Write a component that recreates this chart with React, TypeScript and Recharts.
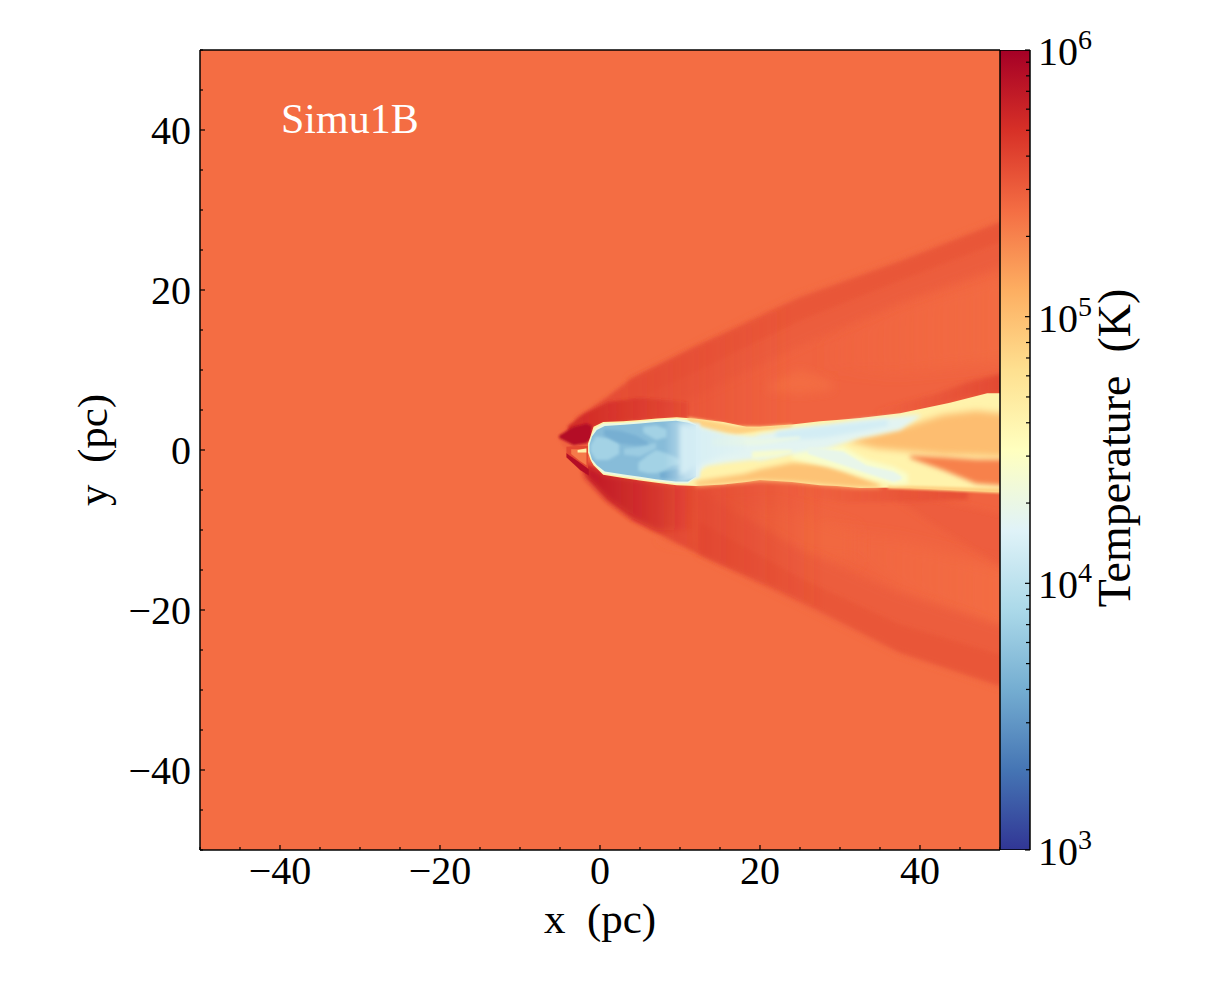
import { Area, Bar, ComposedChart, ReferenceDot, XAxis, YAxis } from "recharts";

type Band = Array<[number, number, number]>; // x (pc), lower y, upper y

// tick values
const xTicks = [-50, -45, -40, -35, -30, -25, -20, -15, -10, -5, 0, 5, 10, 15, 20, 25, 30, 35, 40, 45, 50];
const majorTicks = [-40, -20, 0, 20, 40];
const tempTicks = [
  1000, 2000, 3000, 4000, 5000, 6000, 7000, 8000, 9000, 10000, 20000, 30000, 40000, 50000, 60000, 70000, 80000,
  90000, 100000, 200000, 300000, 400000, 500000, 600000, 700000, 800000, 900000, 1000000,
];
const tempDecades = [1000, 10000, 100000, 1000000];

// RdYlBu_r, low to high
const palette = ["#313695", "#4575b4", "#74add1", "#abd9e9", "#e0f3f8", "#ffffbf", "#fee090", "#fdae61", "#f46d43", "#d73027", "#a50026"];

const ambient: Band = [[-50, -50, 50], [50, -50, 50]];

// bow shock sheath
const sheath: Band = [[-5.4, 1.6, 1.7], [-4, -0.4, 3], [-2, -2.9, 4.6], [0.9, -6.25, 6.6], [3.75, -8.6, 8.75], [12.5, -13.1, 13.1], [25, -18.75, 19], [37.5, -25.25, 23.5], [50, -29.4, 28.4]];
const shockUpWide: Band = [[3.75, 4, 8.75], [12.5, 7, 13.1], [25, 13, 19], [37.5, 18.5, 23.5], [50, 23, 28.4]];
const shockUp: Band = [[3.75, 6, 8.75], [12.5, 10, 13], [25, 16.2, 18.9], [37.5, 21.2, 23.4], [50, 26, 28.3]];
const shockDownWide: Band = [[12.5, -12.9, -5], [25, -19, -12.5], [37.5, -25.2, -18], [50, -29.4, -22]];
const shockDown: Band = [[12.5, -13, -9], [25, -18.7, -16], [37.5, -25.2, -21.8], [50, -29.3, -25.6]];
const lightUp: Band = [[27, 10, 13], [37, 9.5, 18], [50, 11, 22]];
const lightDown: Band = [[27.5, -10.9, -9.6], [37.5, -17.5, -11.25], [50, -22.5, -14.6]];
const lightBlob: Band = [[21, 7.4, 8.2], [25, 7, 10], [29, 7.5, 8.6]];
const lightLow: Band = [[8, -11, -8], [22, -13, -7], [32, -14, -10]];
const stripeDown: Band = [[37, -6.2, -5], [42, -9.5, -6.2], [50, -14.5, -8]];
const nearJetDown: Band = [[24, -5.6, -4], [31, -6.6, -4.6], [40, -6.4, -4.6], [46, -6.2, -5]];
const nearJetUp: Band = [[34, 3.9, 5], [42, 5.2, 7], [46, 6.5, 8.5], [50, 7, 9.5]];
const headUp: Band = [[-3, 2.5, 4], [-2, 2.7, 4.6], [0.9, 3.4, 6.6], [3.75, 3.6, 8.75], [8, 3.9, 10.9], [12, 3.9, 12.9], [18, 3, 15.6], [24, 3, 18.5]];
const headDown: Band = [[-2, -2.9, -1.5], [0.9, -6.25, -3], [4.1, -8.75, -3.5], [8, -10.8, -4.2], [12.5, -13.1, -4.5], [16, -14.7, -4.2], [22, -17.3, -3.9], [28, -20.3, -4.3]];
const headDownDark: Band = [[-1.8, -3.3, -1.8], [0.9, -6.2, -3.1], [4, -8.5, -3.5], [7, -10, -4.1], [12, -10, -4.5]];
const noseUp: Band = [[-4, 1.8, 3], [-2, 2.5, 4.5], [1, 3.3, 6], [5, 3.7, 6.5], [11, 4, 6]];
const noseCore: Band = [[-5.1, 1.5, 1.8], [-3.3, 0.6, 2.9], [-1.67, 0.85, 3.3], [-1, 1.5, 3]];
const noseLobe: Band = [[-4.2, -0.5, 0.4], [-3, -1.9, 0.5], [-2, -2.6, 0.5], [-1.5, -2.6, 0.5]];
const noseLobeIn: Band = [[-3.6, -0.5, 0.1], [-2.6, -1.3, 0.1], [-1.7, -1.9, 0.2]];
const noseLine: Band = [[-4.2, -0.9, -0.4], [-2.5, -2.5, -1.6], [-1.4, -3.2, -2.4]];
const noseSpot: Band = [[-2.8, -0.3, 0], [-1.7, -0.3, 0.2]];

// jet envelope and warm patches
const jetEnvelope: Band = [[-1.5, -0.3, 0.8], [-1.2, -1.2, 1.7], [-0.8, -1.9, 2.9], [0.4, -3.1, 3.5], [2.9, -3.5, 3.6], [5, -3.8, 3.75], [7.1, -4.1, 3.95], [9.6, -4.4, 4.1], [12, -4.5, 3.9], [15.4, -4.3, 3.5], [18.3, -4, 2.9], [20, -3.75, 2.9], [24, -4, 3.2], [27.5, -4.4, 3.6], [29.6, -4.5, 3.75], [32.5, -4.75, 4], [37.5, -4.7, 4.6], [43.75, -5, 5.9], [48.4, -5.2, 7.1], [50, -5.25, 7.1]];
const warmTop: Band = [[11, 3.3, 4.1], [14, 2.4, 3.6], [17, 1.9, 3], [20, 2.4, 2.95], [24, 2.8, 3.2]];
const warmLow: Band = [[12, -4.5, -3.9], [18, -4, -3], [20, -3.8, -2.4], [24, -4, -1.6], [28.5, -4.4, -1.8], [32, -4.7, -3.2], [35, -4.7, -4.3]];
const warmWedge: Band = [[31, 1.1, 1.2], [34.6, 0.2, 2], [38.75, -0.2, 3.1], [42.9, -0.6, 4.4], [47, -0.7, 4.9], [50, -0.8, 4.6]];
const redWedge: Band = [[38.75, -1, -0.7], [42.9, -2.5, -0.9], [47, -4.2, -1.2], [50, -4.4, -1.2]];
const edgeLow: Band = [[36, -4.8, -4.4], [43, -5.1, -4.6], [50, -5.4, -4.8]];

// cold core
const haloBranch: Band = [[24, -1, 0.8], [30.4, -2.6, 0.4], [33.3, -3.5, -1.2], [36.7, -4.4, -2.1], [38.5, -4.2, -3]];
const paleBranch: Band = [[26, -0.5, 0.4], [30.4, -1.9, -0.2], [33.3, -2.9, -1.9], [36.7, -4, -2.7], [37.7, -3.7, -3.3]];
const paleMain: Band = [[10, -3.5, 3.2], [11.5, -3.3, 3.1], [13.3, -2, 2.6], [15.8, -1.6, 1.9], [19.2, -1.2, 1.7], [20, -1.3, 2], [24.2, -0.4, 2.7], [28.3, 0.2, 3.1], [32.5, 1.5, 3.75], [37.5, 2.5, 4.2], [40, 4.2, 4.4]];
const paleCore: Band = [[22, 1.2, 2.3], [28, 1.5, 3], [33, 2.4, 3.5], [36, 3, 3.8]];
const paleLight: Band = [[19, -1.1, -0.2], [22, -0.8, 0], [24, -0.3, 0]];
const paleMid: Band = [[14, 0.5, 1.6], [20, 0.6, 1.4], [25, 1.3, 1.7]];
const headRim: Band = [[-1.4, -0.3, 0.8], [-1, -1.5, 1.9], [-0.6, -1.9, 2.7], [0.4, -2.9, 3.3], [2.9, -3.3, 3.4], [5, -3.6, 3.55], [7.1, -3.9, 3.75], [9.6, -4.2, 3.9], [11, -4.2, 3.7], [12, -3.3, 3.2]];
const headBlue: Band = [[-1.3, -0.2, 0.7], [-1, -1.2, 1.7], [-0.4, -1.9, 2.5], [0.6, -2.7, 3], [3, -3.05, 3.15], [5, -3.35, 3.3], [7, -3.65, 3.5], [9.5, -3.95, 3.65], [11, -3.95, 3.4], [12, -3.3, 3.1]];
const headFadeIn: Band = [[8, -4, 3.6], [10.5, -4, 3.6], [12.5, -3.4, 3.3]];
const headFade: Band = [[10, -3.4, 3.2], [12, -2, 2.9], [15, -0.8, 2.2], [18, -0.2, 1.4]];
const swirlLow: Band = [[4.8, -2.6, -1.6], [6, -2.9, -0.6], [7, -2.9, 0], [8, -2.6, -0.3], [9, -2, -0.7], [10, -1.8, -1.2]];
const swirlUp: Band = [[5.4, 2.2, 2.9], [7, 1.25, 3.1], [8.3, 1.6, 2.6]];
const swirlMid: Band = [[3, -0.6, 0.2], [5, -0.8, 0.4], [7, 0.2, 0.9]];
const noseLight: Band = [[-1.2, -0.2, 0.6], [-0.5, -1.25, 1.7], [1, -1.25, 1.5], [2.4, -0.5, 0.8]];
const headDark: Band = [[0.5, 1.8, 2.6], [2.5, 0.8, 2.4], [4.5, 0.6, 1.8], [6, 0.7, 1]];
const headDarkLow: Band = [[7.5, -3.5, -2.9], [9.5, -3.7, -2.4], [10.5, -3.4, -2.6]];

// band, position on the colour bar (0 to 1), blur in px, opacity at left and right end; drawing order
const layers: Array<[Band, number, number, number?, number?]> = [
  [sheath, 0.815, 1.5],
  [lightUp, 0.802, 7, 0, 1],
  [lightDown, 0.8, 7, 0.2, 1],
  [lightBlob, 0.802, 4],
  [lightLow, 0.81, 7],
  [shockUpWide, 0.826, 4, 1, 1],
  [shockDownWide, 0.826, 4, 1, 1],
  [shockUp, 0.838, 2, 1, 1],
  [shockDown, 0.838, 2, 1, 1],
  [stripeDown, 0.832, 3, 0.6, 0.6],
  [nearJetDown, 0.85, 2, 0, 1],
  [nearJetUp, 0.865, 2.5, 0, 1],
  [headUp, 0.86, 2, 1, 0],
  [headDown, 0.885, 2, 1, 0],
  [headDownDark, 0.945, 3, 1, 0],
  [noseUp, 0.91, 1.5, 1, 0.2],
  [noseCore, 0.97, 0.8],
  [noseLobe, 0.86, 0.6],
  [noseLobeIn, 0.78, 0.6],
  [noseLine, 0.97, 0.6],
  [noseSpot, 0.55, 0.5],
  [jetEnvelope, 0.54, 0.7],
  [warmTop, 0.63, 1.5],
  [warmLow, 0.66, 2.5],
  [warmWedge, 0.67, 3.5],
  [edgeLow, 0.63, 1],
  [redWedge, 0.77, 2.5],
  [haloBranch, 0.48, 2],
  [paleMain, 0.41, 2],
  [paleBranch, 0.425, 1.2],
  [paleCore, 0.375, 2],
  [paleLight, 0.47, 1.5],
  [paleMid, 0.43, 1.5],
  [headRim, 0.44, 0.5],
  [headBlue, 0.235, 0.6],
  [swirlLow, 0.285, 1.5],
  [swirlUp, 0.285, 1.5],
  [swirlMid, 0.27, 1.5],
  [noseLight, 0.285, 1.5],
  [headDark, 0.205, 1.5],
  [headDarkLow, 0.2, 1],
  [headFadeIn, 0.39, 1.5, 0, 1],
  [headFade, 0.38, 2.5, 1, 0.2],
];

const blurs = Array.from(new Set(layers.map((l) => l[2])));
const blurId = (b: number) => `soft${String(b).replace(".", "_")}`;
const FONT = "'Liberation Serif', 'DejaVu Serif', serif";

function levelColor(level: number) {
  const pos = level * (palette.length - 1);
  const i = Math.min(Math.floor(pos), palette.length - 2);
  const t = pos - i;
  const a = parseInt(palette[i].slice(1), 16);
  const b = parseInt(palette[i + 1].slice(1), 16);
  const mix = (s: number) => Math.round(((a >> s) & 255) * (1 - t) + ((b >> s) & 255) * t);
  return `rgb(${mix(16)},${mix(8)},${mix(0)})`;
}

// run the band a little past the right edge so the blur does not fade at the frame
const toRows = (band: Band) => {
  const last = band[band.length - 1];
  const rows = last[0] === 50 ? [...band, [53, last[1], last[2]] as [number, number, number]] : band;
  return rows.map(([x, lo, hi]) => ({ x, band: [lo, hi] }));
};

const tickLen = (v: number) => (majorTicks.includes(v) ? 5 : 3);
const axisText = (v: number) => String(v).replace("-", "\u2212");

const bottomTick = ({ x, y, payload }: any) => (
  <g>
    <line x1={x} x2={x} y1={y} y2={y - tickLen(payload.value)} stroke="#000" strokeWidth={1.2} />
    {majorTicks.includes(payload.value) && (
      <text x={x} y={y + 34} textAnchor="middle" fontFamily={FONT} fontSize={40} fill="#000">
        {axisText(payload.value)}
      </text>
    )}
  </g>
);
const topTick = ({ x, y, payload }: any) => (
  <line x1={x} x2={x} y1={y} y2={y + tickLen(payload.value)} stroke="#000" strokeWidth={1.2} />
);
const leftTick = ({ x, y, payload }: any) => (
  <g>
    <line x1={x} x2={x + tickLen(payload.value)} y1={y} y2={y} stroke="#000" strokeWidth={1.2} />
    {majorTicks.includes(payload.value) && (
      <text x={x - 9} y={y + 14} textAnchor="end" fontFamily={FONT} fontSize={40} fill="#000">
        {axisText(payload.value)}
      </text>
    )}
  </g>
);
const rightTick = ({ x, y, payload }: any) => (
  <line x1={x} x2={x - tickLen(payload.value)} y1={y} y2={y} stroke="#000" strokeWidth={1.2} />
);
const tempTick = ({ x, y, payload }: any) => {
  const isDecade = tempDecades.includes(payload.value);
  return (
    <g>
      <line x1={x} x2={x - (isDecade ? 5 : 4)} y1={y} y2={y} stroke="#000" strokeWidth={1.2} />
      {isDecade && (
        <text x={x + 8} y={y + 15} fontFamily={FONT} fontSize={40} fill="#000">
          10
          <tspan fontSize={28} dy={-16}>
            {Math.round(Math.log10(payload.value))}
          </tspan>
        </text>
      )}
    </g>
  );
};

export default function App() {
  return (
    <div style={{ position: "absolute", left: 0, top: 0, width: 1225, height: 1000, background: "#fff" }}>
      <div style={{ position: "absolute", left: 0, top: 0 }}>
        <ComposedChart width={1225} height={1000} margin={{ top: 40, right: 200, bottom: 90, left: 80 }}>
          <defs>
            {blurs.map((b) => (
              <filter key={b} id={blurId(b)} filterUnits="userSpaceOnUse" x={0} y={0} width={1225} height={1000}>
                <feGaussianBlur stdDeviation={b} />
              </filter>
            ))}
            {layers.map(([, level, , left, right], i) =>
              left === undefined ? null : (
                <linearGradient key={i} id={`fade${i}`} x1="0" y1="0" x2="1" y2="0">
                  <stop offset={0} stopColor={levelColor(level)} stopOpacity={left} />
                  <stop offset={1} stopColor={levelColor(level)} stopOpacity={right} />
                </linearGradient>
              ),
            )}
          </defs>
          <XAxis type="number" dataKey="x" domain={[-50, 50]} ticks={xTicks} interval={0} allowDataOverflow height={60} tickSize={0} tickMargin={0} tickLine={false} tick={bottomTick} axisLine={{ stroke: "#000", strokeWidth: 1.5 }} />
          <YAxis type="number" domain={[-50, 50]} ticks={xTicks} interval={0} allowDataOverflow width={120} tickSize={0} tickMargin={0} tickLine={false} tick={leftTick} axisLine={{ stroke: "#000", strokeWidth: 1.5 }} />
          <Area data={toRows(ambient)} dataKey="band" type="linear" stroke="none" fill={levelColor(0.8)} fillOpacity={1} dot={false} activeDot={false} isAnimationActive={false} />
          {layers.map(([band, level, blur, left], i) => (
            <Area
              key={i}
              data={toRows(band)}
              dataKey="band"
              type="linear"
              stroke="none"
              fill={left === undefined ? levelColor(level) : `url(#fade${i})`}
              fillOpacity={1}
              dot={false}
              activeDot={false}
              isAnimationActive={false}
              style={{ filter: `url(#${blurId(blur)})` }}
            />
          ))}
          <XAxis xAxisId="top" orientation="top" type="number" domain={[-50, 50]} ticks={xTicks} interval={0} height={10} tickSize={0} tickMargin={0} tickLine={false} tick={topTick} axisLine={{ stroke: "#000", strokeWidth: 1.5 }} />
          <YAxis yAxisId="right" orientation="right" type="number" domain={[-50, 50]} ticks={xTicks} interval={0} width={25} tickSize={0} tickMargin={0} tickLine={false} tick={rightTick} axisLine={{ stroke: "#000", strokeWidth: 1.5 }} />
          <ReferenceDot
            x={-40.5}
            y={41.5}
            r={0}
            fill="none"
            stroke="none"
            label={{ value: "Simu1B", position: "right", fill: "#fff", fontSize: 42, fontFamily: FONT }}
          />
          <text x={600} y={933} textAnchor="middle" fontFamily={FONT} fontSize={43} fill="#000" style={{ whiteSpace: "pre" }}>x  (pc)</text>
          <text transform="translate(107,450) rotate(-90)" textAnchor="middle" fontFamily={FONT} fontSize={43} fill="#000" style={{ whiteSpace: "pre" }}>y  (pc)</text>
          <text transform="translate(1130,448) rotate(-90)" textAnchor="middle" fontFamily={FONT} fontSize={46} fill="#000" style={{ whiteSpace: "pre" }}>Temperature  (K)</text>
        </ComposedChart>
      </div>
      <div style={{ position: "absolute", left: 1000, top: 0 }}>
        <ComposedChart width={130} height={1000} data={[{ name: "T", range: [1000, 1000000] }]} margin={{ top: 50, right: 0, bottom: 150, left: 0 }} barCategoryGap={0}>
          <defs>
            <linearGradient id="cbar" x1="0" y1="1" x2="0" y2="0">
              {palette.map((c, i) => (
                <stop key={c} offset={i / (palette.length - 1)} stopColor={c} />
              ))}
            </linearGradient>
          </defs>
          <XAxis dataKey="name" hide />
          <YAxis orientation="right" scale="log" type="number" domain={[1000, 1000000]} ticks={tempTicks} interval={0} allowDataOverflow width={100} tickSize={0} tickMargin={0} tickLine={false} tick={tempTick} axisLine={false} />
          <Bar dataKey="range" fill="url(#cbar)" stroke="#000" strokeWidth={1.5} isAnimationActive={false} />
        </ComposedChart>
      </div>
    </div>
  );
}
